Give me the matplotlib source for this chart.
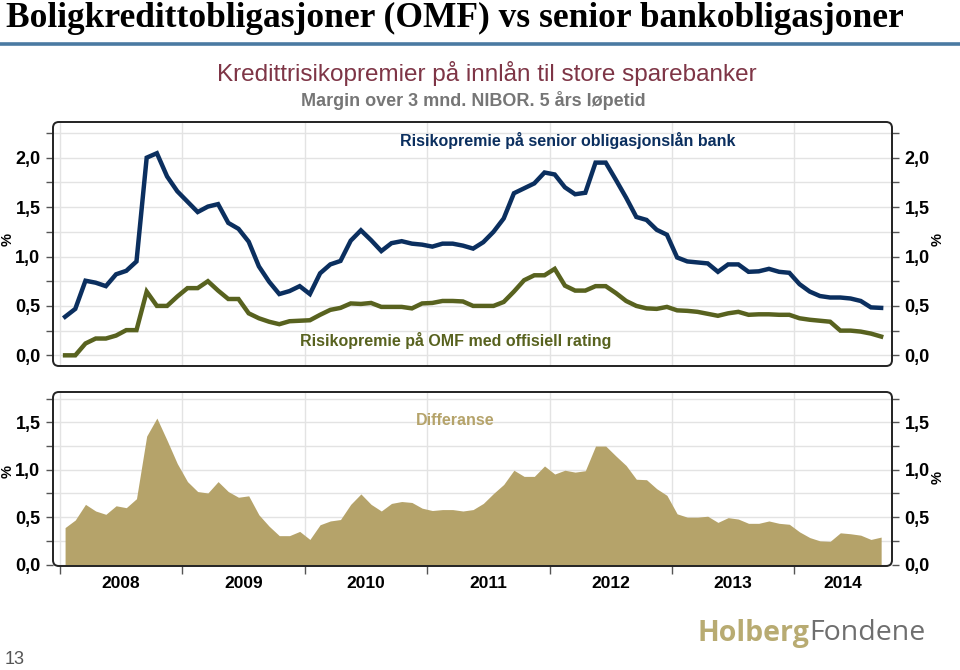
import matplotlib.pyplot as plt
import numpy as np
from matplotlib.patches import FancyBboxPatch
from matplotlib.lines import Line2D

# ---------------------------------------------------------------------------
# Data: monthly observations, Jan 2008 - Sep 2014 (percent)
# ---------------------------------------------------------------------------

start_year = 2008
senior = [
    0.39, 0.47, 0.755, 0.735, 0.70, 0.82, 0.855, 0.95, 2.0, 2.045, 1.81, 1.66,
    1.555, 1.45, 1.505, 1.53, 1.34, 1.28, 1.15, 0.90, 0.745, 0.62, 0.65, 0.70,
    0.62, 0.83, 0.92, 0.955, 1.16, 1.265, 1.165, 1.055, 1.135, 1.155, 1.13, 1.12,
    1.10, 1.13, 1.13, 1.11, 1.08, 1.145, 1.25, 1.385, 1.64, 1.69, 1.74, 1.85,
    1.83, 1.70, 1.63, 1.645, 1.95, 1.95, 1.775, 1.595, 1.40, 1.37, 1.27, 1.22,
    0.99, 0.95, 0.94, 0.93, 0.845, 0.92, 0.92, 0.845, 0.85, 0.875, 0.845, 0.835,
    0.72, 0.645, 0.60, 0.585, 0.585, 0.575, 0.55, 0.485, 0.48,
]
omf = [
    0.0, 0.0, 0.12, 0.17, 0.17, 0.20, 0.255, 0.255, 0.645, 0.50, 0.50, 0.595,
    0.68, 0.68, 0.75, 0.655, 0.57, 0.57, 0.425, 0.375, 0.34, 0.315, 0.345, 0.35,
    0.355, 0.41, 0.46, 0.48, 0.525, 0.52, 0.53, 0.49, 0.49, 0.49, 0.475, 0.525,
    0.53, 0.55, 0.55, 0.545, 0.50, 0.50, 0.50, 0.54, 0.645, 0.76, 0.81, 0.81,
    0.875, 0.705, 0.655, 0.655, 0.70, 0.70, 0.63, 0.55, 0.50, 0.475, 0.47, 0.49,
    0.455, 0.45, 0.44, 0.42, 0.40, 0.425, 0.44, 0.41, 0.415, 0.415, 0.41, 0.41,
    0.375, 0.36, 0.35, 0.34, 0.25, 0.25, 0.24, 0.22, 0.19,
]
years = [2008, 2009, 2010, 2011, 2012, 2013, 2014]

senior = np.array(senior)
omf = np.array(omf)
diff = senior - omf                       # "Differanse"
months = np.arange(len(senior))
x = start_year + (months + 0.5) / 12      # plot at mid-month

NAVY = "#0b2f5f"
OLIVE = "#58621f"
KHAKI = "#b5a36a"
GRID = "#e3e3e3"
FONT = "Liberation Sans"

W, H = 960, 670
XLIM = (2007.943, 2014.797)


def fx(px):
    return px / W


def fy(py):
    return 1 - py / H


fig = plt.figure(figsize=(9.6, 6.7), dpi=100)
fig.patch.set_facecolor("white")

# ---------------------------------------------------------------------------
# Header
# ---------------------------------------------------------------------------

fig.text(fx(6), fy(18), "Boligkredittobligasjoner (OMF) vs senior bankobligasjoner",
         family="Liberation Serif", fontweight="bold", fontsize=25.5,
         ha="left", va="center", color="black")
fig.add_artist(Line2D([0, 1], [fy(44), fy(44)], transform=fig.transFigure,
                      color="#4a7aa2", lw=2.6))
fig.text(fx(487), fy(73), "Kredittrisikopremier på innlån til store sparebanker",
         family=FONT, fontsize=17.5, color="#7e3546", ha="center", va="center")
fig.text(fx(473), fy(101), "Margin over 3 mnd. NIBOR. 5 års løpetid",
         family=FONT, fontsize=13, color="#767676", ha="center", va="center",
         fontweight="bold")


# ---------------------------------------------------------------------------
# Axes helpers
# ---------------------------------------------------------------------------

def style_axes(ax, ylim, top):
    ax.set_xlim(*XLIM)
    ax.set_ylim(*ylim)
    for s in ax.spines.values():
        s.set_visible(False)
    ax.set_yticks([0, 0.5, 1.0, 1.5, 2.0][: int(top / 0.5) + 1])
    ax.set_yticks(np.arange(0.25, top + 0.26, 0.5), minor=True)
    ax.set_yticklabels([f"{v:.1f}".replace(".", ",") for v in ax.get_yticks()])
    ax.tick_params(axis="y", which="both", direction="out", length=5, width=1,
                   color="#555555", left=True, right=True,
                   labelleft=True, labelright=True, pad=4)
    ax.tick_params(axis="y", labelsize=13)
    for lab in ax.get_yticklabels():
        lab.set_fontweight("bold")
        lab.set_family(FONT)
    for v in np.arange(0, top + 0.26, 0.25):
        ax.axhline(v, color=GRID, lw=1, zorder=0)
    for yr in years:
        ax.axvline(yr, color=GRID, lw=1, zorder=0)
    w = ax.get_position().width * W
    h = ax.get_position().height * H
    frame = FancyBboxPatch((0, 0), 1, 1, transform=ax.transAxes,
                           boxstyle="round,pad=0,rounding_size=0.007",
                           mutation_aspect=w / h,
                           fill=False, ec="#222222", lw=1.4,
                           clip_on=False, zorder=5)
    ax.add_patch(frame)


# top panel
ax1 = fig.add_axes([fx(53), fy(366), fx(892) - fx(53), fy(122) - fy(366)])
style_axes(ax1, (-0.108, 2.361), 2.25)
ax1.set_xticks([])
ax1.plot(x, senior, color=NAVY, lw=3.2, solid_joinstyle="miter", zorder=3)
ax1.plot(x, omf, color=OLIVE, lw=3.2, solid_joinstyle="miter", zorder=3)
ax1.text(2012.15, 2.17, "Risikopremie på senior obligasjonslån bank",
         family=FONT, fontweight="bold", fontsize=11.5, color=NAVY,
         ha="center", va="center")
ax1.text(2011.23, 0.155, "Risikopremie på OMF med offisiell rating",
         family=FONT, fontweight="bold", fontsize=11.5, color=OLIVE,
         ha="center", va="center")

# bottom panel
ax2 = fig.add_axes([fx(53), fy(566), fx(892) - fx(53), fy(392) - fy(566)])
style_axes(ax2, (-0.015, 1.82), 1.75)
ax2.fill_between(x, 0, diff, color=KHAKI, lw=0, zorder=3)
ax2.text(2011.23, 1.52, "Differanse", family=FONT, fontweight="bold",
         fontsize=11.5, color=KHAKI, ha="center", va="center")
ax2.set_xticks(years)
ax2.set_xticklabels([])
ax2.tick_params(axis="x", direction="out", length=6, width=1, color="#555555")
for yr in years:
    right = min(yr + 1, XLIM[1])
    ax2.text((yr + right) / 2, -0.2, str(yr), family=FONT, fontweight="bold",
             fontsize=12.5, ha="center", va="center",
             transform=ax2.transData)

# "%" axis labels
for py in (240, 472):
    fig.text(fx(8), fy(py), "%", family=FONT, fontsize=10.5, fontweight="bold",
             rotation=90, ha="center", va="center")
for py in (240, 477):
    fig.text(fx(938), fy(py), "%", family=FONT, fontsize=10.5, fontweight="bold",
             rotation=90, ha="center", va="center")

# ---------------------------------------------------------------------------
# Footer
# ---------------------------------------------------------------------------

t = fig.text(fx(697), fy(633), "Holberg", family="Open Sans", fontweight="bold",
             fontsize=20.5, color="#b8ab72", ha="left", va="center")
fig.canvas.draw()
bb = t.get_window_extent()
fig.text(bb.x1 / W, fy(633), "Fondene", family="Open Sans", fontsize=20.5,
         color="#6e6e6e", ha="left", va="center")
fig.text(fx(15), fy(659), "13", family=FONT, fontsize=13, color="#555555",
         ha="center", va="center")

fig.savefig("out.png", dpi=100, facecolor="white")
